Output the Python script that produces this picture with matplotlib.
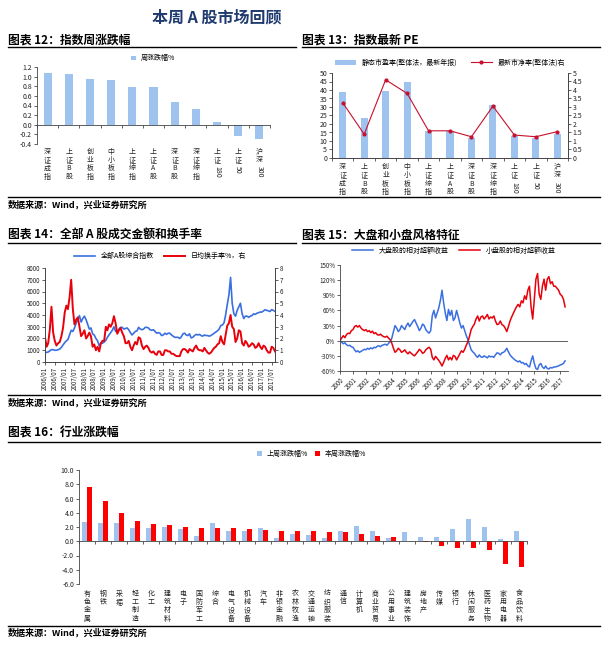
import re
import numpy as np
import pandas as pd
import matplotlib
matplotlib.use("Agg")
import matplotlib.pyplot as plt
from matplotlib.lines import Line2D
import matplotlib.transforms as mtransforms

plt.rcParams['font.family'] = ['Noto Sans CJK SC', 'DejaVu Sans']
plt.rcParams['axes.unicode_minus'] = False

# ---------------- data ----------------
# chart 12: weekly change of indices
idx_names = ["深证成指", "上证B股", "创业板指", "中小板指", "上证综指", "上证A股",
             "深证B股", "深证综指", "上证180", "上证50", "沪深300"]
week_chg = [1.08, 1.06, 0.95, 0.94, 0.79, 0.79, 0.47, 0.33, 0.05, -0.24, -0.30]

# chart 13: PE (left, bars) and PB (right, line)
pe_names = ["深证成指", "上证B股", "创业板指", "中小板指", "上证综指", "上证A股",
            "深证B股", "深证综指", "上证180", "上证50", "沪深300"]
pe_vals = [39.0, 23.5, 39.5, 45.0, 16.0, 16.0, 12.0, 31.0, 13.0, 11.5, 14.0]
pb_vals = [3.25, 1.40, 4.60, 3.80, 1.60, 1.60, 1.25, 3.05, 1.35, 1.25, 1.55]

# chart 14: monthly from 2006/01
a_index = [800, 820, 850, 950, 1050, 1050, 1000, 1000, 1050, 1100, 1250, 1450,
           1650, 1800, 1900, 2300, 2700, 2600, 2900, 3300, 3600, 3950, 3400, 3700,
           3900, 3600, 3200, 2800, 2900, 2400, 2300, 2000, 1800, 1400, 1600, 1600,
           1700, 1850, 2100, 2300, 2500, 2700, 3000, 2600, 2600, 2800, 2950, 2950,
           2800, 2850, 2900, 2750, 2500, 2300, 2450, 2600, 2650, 2950, 2800, 2750,
           2800, 2950, 2950, 2900, 2750, 2700, 2750, 2600, 2450, 2500, 2450, 2250,
           2300, 2450, 2350, 2450, 2450, 2300, 2200, 2100, 2100, 2100, 2000, 2150,
           2400, 2450, 2300, 2250, 2400, 2050, 2100, 2250, 2350, 2300, 2350, 2250,
           2200, 2300, 2250, 2250, 2200, 2250, 2350, 2450, 2550, 2650, 2800, 3100,
           3150, 3350, 4000, 4900, 5700, 7200, 5000, 4100, 3900, 4400, 4700, 5000,
           4100, 3700, 3900, 3900, 3800, 3900, 3950, 4100, 4050, 4150, 4200, 4250,
           4250, 4350, 4450, 4400, 4350, 4300, 4450, 4400, 4300]
turnover = [2.1, 1.3, 1.6, 2.8, 4.7, 2.5, 1.8, 1.4, 1.6, 1.7, 2.2, 2.9,
            4.2, 4.8, 4.5, 5.5, 7.0, 4.5, 3.2, 3.6, 3.8, 3.0, 2.2, 2.4,
            2.7, 2.0, 2.2, 2.5, 2.2, 1.3, 1.5, 1.0, 1.3, 0.9, 1.6, 1.8,
            1.8, 3.0, 2.7, 3.2, 3.0, 3.3, 3.9, 3.3, 2.4, 2.7, 2.9, 2.5,
            2.2, 1.6, 1.6, 1.8, 1.3, 1.0, 1.4, 1.7, 1.5, 2.1, 2.0, 1.4,
            1.1, 1.3, 1.4, 1.2, 0.9, 0.8, 0.9, 0.7, 0.6, 0.9, 0.9, 0.6,
            0.6, 1.0, 1.0, 0.9, 0.9, 0.7, 0.7, 0.6, 0.5, 0.5, 0.5, 0.9,
            1.1, 1.1, 1.0, 0.8, 1.1, 1.0, 0.9, 1.2, 1.4, 1.1, 1.0, 1.0,
            0.9, 1.2, 1.0, 0.8, 0.7, 0.8, 1.0, 1.2, 1.3, 1.5, 1.6, 2.2,
            1.7, 1.5, 2.3, 3.1, 3.3, 4.0, 3.0, 2.8, 1.7, 2.0, 2.7, 2.6,
            1.6, 1.4, 1.8, 1.6, 1.3, 1.4, 1.6, 1.5, 1.2, 1.3, 1.6, 1.3,
            1.1, 1.4, 1.3, 1.0, 0.8, 0.8, 1.3, 1.2, 0.9]

# chart 15: 8 points per year from 2000, in %
large_excess = [0, -3, -6, -4, -8, -10, -9, -12,
                -13, -18, -22, -20, -23, -21, -19, -17,
                -18, -15, -17, -14, -16, -13, -14, -11,
                -10, -12, -9, -8, -7, -9, -5, -2,
                5, 18, 30, 25, 18, 22, 30, 26,
                22, 30, 35, 28, 33, 38, 42, 35,
                28, 20, 25, 33, 30, 22, 18, 15,
                20, 50, 60, 45, 55, 65, 80, 100,
                75, 55, 40, 62, 50, 60, 40, 45,
                60, 48, 35, 25, 30, 20, 10, 2,
                -8, -18, -22, -25, -30, -33, -28, -32,
                -33, -30, -32, -34, -30, -32, -31, -33,
                -28, -24, -25, -28, -24, -23, -20, -15,
                -22, -28, -32, -35, -38, -40, -42, -40,
                -44, -43, -47, -45, -50, -52, -40, -30,
                -45, -55, -57, -48, -45, -52, -55, -50,
                -55, -56, -53, -54, -52, -52, -51, -50,
                -48, -47, -45, -40]
small_excess = [0, 5, 10, 6, 12, 15, 14, 20,
                22, 28, 30, 27, 30, 25, 22, 20,
                22, 18, 20, 16, 19, 14, 16, 12,
                11, 13, 10, 8, 7, 9, 5, 2,
                -5, -15, -23, -20, -15, -18, -23, -21,
                -18, -23, -26, -22, -25, -28, -30, -26,
                -22, -17, -20, -25, -23, -18, -15, -13,
                -17, -33, -38, -31, -35, -39, -44, -50,
                -43, -35, -29, -38, -33, -38, -29, -31,
                -38, -32, -26, -20, -23, -17, -9, -2,
                9, 22, 28, 33, 43, 49, 39, 47,
                49, 43, 47, 52, 43, 47, 45, 49,
                39, 32, 33, 39, 32, 30, 25, 18,
                28, 39, 47, 54, 61, 67, 72, 67,
                79, 75, 89, 82, 100, 108, 67, 43,
                82, 122, 133, 92, 82, 108, 122, 100,
                122, 127, 113, 117, 108, 108, 104, 100,
                92, 89, 82, 67]

# chart 16: industries
industries = ["有色金属", "钢铁", "采掘", "轻工制造", "化工", "建筑材料", "电子",
              "国防军工", "综合", "电气设备", "机械设备", "汽车", "非银金融", "农林牧渔",
              "交通运输", "纺织服装", "通信", "计算机", "商业贸易", "公用事业", "建筑装饰",
              "房地产", "传媒", "银行", "休闲服务", "医药生物", "家用电器", "食品饮料"]
last_week = [2.7, 2.6, 2.5, 1.9, 1.9, 2.0, 1.7, 0.8, 2.6, 1.5, 1.5, 1.8, 0.4, 1.0,
             0.85, 0.5, 1.5, 2.1, 1.5, 0.45, 1.3, 0.65, 0.65, 1.7, 3.1, 1.95, 0.3, 1.45]
this_week = [7.6, 5.6, 3.9, 2.9, 2.4, 2.3, 2.0, 1.9, 1.9, 1.8, 1.7, 1.6, 1.5, 1.4,
             1.45, 1.35, 1.35, 0.95, 0.7, 0.6, 0.05, -0.05, -0.65, -0.9, -1.0, -1.2, -3.2, -3.6]

LIGHT = '#9DC3EE'
RED = '#FF0000'
W, H = 608, 659

fig = plt.figure(figsize=(W / 100, H / 100), dpi=100)


def box(l, t, r, b):
    return [l / W, 1 - b / H, (r - l) / W, (b - t) / H]


def hline(y, x0, x1, lw=1.0):
    fig.add_artist(Line2D([x0 / W, x1 / W], [1 - y / H, 1 - y / H], color='black', lw=lw))


def ftext(x, y, s, **kw):
    fig.text(x / W, 1 - y / H, s, **kw)


def vlabels(ax, names, y=-0.03, fs=5):
    # chinese characters stacked, trailing digits rotated
    trans = mtransforms.blended_transform_factory(ax.transData, ax.transAxes)
    for i, n in enumerate(names):
        m = re.match(r'^(.*?)(\d+)$', n)
        cjk, digits = (m.group(1), m.group(2)) if m else (n, "")
        ax.text(i, y, "\n".join(cjk), ha='center', va='top', fontsize=fs,
                linespacing=1.05, transform=trans, color='#222222')
        if digits:
            off = -(len(cjk) * fs * 1.23) - 1
            ax.annotate(digits, (i, y), xycoords=trans, xytext=(0, off),
                        textcoords='offset points', rotation=270, ha='center',
                        va='top', fontsize=fs, color='#222222')


def style(ax, fs=5):
    ax.tick_params(labelsize=fs, length=2, width=0.5, pad=1.5, colors='#222222')
    for s in ax.spines.values():
        s.set_linewidth(0.6)
        s.set_color('#444444')


# ---- header ----
ftext(217, 17, "本周 A 股市场回顾", ha='center', va='center', fontsize=11.5,
      fontweight='bold', color='#1F3A6E')
ftext(8, 40, "图表 12：指数周涨跌幅", fontsize=8.5, fontweight='bold', va='center')
ftext(302, 40, "图表 13：指数最新 PE", fontsize=8.5, fontweight='bold', va='center')
hline(47, 8, 296)
hline(47, 302, 600)
hline(197, 8, 600)
ftext(8, 205, "数据来源：Wind，兴业证券研究所", fontsize=6.5, va='center', fontweight='bold')

ftext(8, 235, "图表 14：全部 A 股成交金额和换手率", fontsize=8.5, fontweight='bold', va='center')
ftext(302, 235, "图表 15：大盘和小盘风格特征", fontsize=8.5, fontweight='bold', va='center')
hline(243, 8, 296)
hline(243, 302, 600)
hline(395, 8, 600)
ftext(8, 403, "数据来源：Wind，兴业证券研究所", fontsize=6.5, va='center', fontweight='bold')

ftext(8, 433, "图表 16：行业涨跌幅", fontsize=8.5, fontweight='bold', va='center')
hline(442, 8, 600)
hline(626, 8, 600)
ftext(8, 633, "数据来源：Wind，兴业证券研究所", fontsize=6.5, va='center', fontweight='bold')

# ---- chart 12 ----
ax = fig.add_axes(box(37, 67, 270, 144))
x = np.arange(len(idx_names))
ax.bar(x, week_chg, width=0.38, color=LIGHT, label="周涨跌幅%")
ax.set_ylim(-0.4, 1.2)
ax.set_yticks(np.arange(-0.4, 1.21, 0.2))
ax.set_yticklabels([f"{v:.1f}" for v in np.arange(-0.4, 1.21, 0.2)])
for lbl, v in zip(ax.get_yticklabels(), np.arange(-0.4, 1.21, 0.2)):
    if v < -0.01:
        lbl.set_color(RED)
ax.set_xlim(-0.5, len(idx_names) - 0.5)
ax.spines['top'].set_visible(False)
ax.spines['right'].set_visible(False)
ax.spines['bottom'].set_position(('data', 0))
ax.set_xticks(np.arange(-0.5, len(idx_names), 1.0))
ax.set_xticklabels([])
style(ax)
vlabels(ax, idx_names, y=-0.05)
ax.legend(loc='upper center', bbox_to_anchor=(0.5, 1.2), frameon=False, fontsize=5,
          handlelength=0.6, handleheight=0.6, borderaxespad=0)

# ---- chart 13 ----
ax = fig.add_axes(box(332, 73, 568, 158))
x = np.arange(len(pe_names))
b = ax.bar(x, pe_vals, width=0.33, color=LIGHT, label="静态市盈率(整体法，最新年报)")
ax.set_ylim(0, 50)
ax.set_yticks(range(0, 51, 5))
ax.set_xlim(-0.5, len(pe_names) - 0.5)
ax.set_xticks(np.arange(-0.5, len(pe_names), 1.0))
ax.set_xticklabels([])
ax.spines['top'].set_visible(False)
style(ax)
ax2 = ax.twinx()
l, = ax2.plot(x, pb_vals, color='#C8102E', lw=0.8, marker='o', ms=2, label="最新市净率(整体法)右")
ax2.set_ylim(0, 5)
ax2.set_yticks(np.arange(0, 5.01, 0.5))
ax2.set_yticklabels([f"{v:g}" for v in np.arange(0, 5.01, 0.5)])
ax2.spines['top'].set_visible(False)
style(ax2)
vlabels(ax, pe_names, y=-0.06)
ax.legend([b, l], [b.get_label(), l.get_label()], loc='upper center', ncol=2,
          bbox_to_anchor=(0.5, 1.2), frameon=False, fontsize=5, handlelength=3,
          columnspacing=2, borderaxespad=0)

# ---- chart 14 ----
ax = fig.add_axes(box(45, 268, 275, 362))
months = pd.date_range('2006-01-01', periods=len(a_index), freq='MS')
l1, = ax.plot(months, a_index, color='#3A6FE0', lw=1.2, label="全部A股综合指数")
ax.set_ylim(0, 8000)
ax.set_yticks(range(0, 8001, 1000))
ticks = pd.date_range('2006-01-01', '2017-07-01', freq='6MS')
ax.set_xticks(ticks)
ax.set_xticklabels([t.strftime('%Y/%m') for t in ticks], rotation=90)
ax.set_xlim(months[0], months[-1])
ax.spines['top'].set_visible(False)
style(ax, fs=4.5)
ax2 = ax.twinx()
l2, = ax2.plot(months, turnover, color='#E8000B', lw=1.4, label="日均换手率%，右")
ax2.set_ylim(0, 8)
ax2.set_yticks(range(0, 9))
ax2.spines['top'].set_visible(False)
style(ax2, fs=4.5)
ax.legend([l1, l2], [l1.get_label(), l2.get_label()], loc='upper center', ncol=2,
          bbox_to_anchor=(0.5, 1.2), frameon=False, fontsize=5, handlelength=3,
          columnspacing=1.5, borderaxespad=0)

# ---- chart 15 ----
ax = fig.add_axes(box(340, 265, 568, 371))
yrs = 2000 + np.arange(len(large_excess)) / 8
l1, = ax.plot(yrs, large_excess, color='#3A6FE0', lw=1.1, label="大盘股的相对超额收益")
l2, = ax.plot(yrs, small_excess, color='#E8000B', lw=1.1, label="小盘股的相对超额收益")
ax.set_ylim(-60, 150)
ax.set_yticks(range(-60, 151, 30))
ax.set_yticklabels([f"{v}%" for v in range(-60, 151, 30)])
ax.set_xlim(2000, 2017.6)
ax.set_xticks(range(2000, 2018))
ax.set_xticklabels([str(v) for v in range(2000, 2018)], rotation=45, ha='right',
                   rotation_mode='anchor')
ax.spines['top'].set_visible(False)
ax.spines['right'].set_visible(False)
ax.axhline(0, color='#444444', lw=0.6)
style(ax, fs=4.5)
ax.legend([l1, l2], [l1.get_label(), l2.get_label()], loc='upper center', ncol=2,
          bbox_to_anchor=(0.5, 1.2), frameon=False, fontsize=5, handlelength=3,
          columnspacing=1.5, borderaxespad=0)

# ---- chart 16 ----
ax = fig.add_axes(box(79, 470, 527, 584))
x = np.arange(len(industries))
bw = 0.34
b1 = ax.bar(x - bw / 2, last_week, width=bw, color=LIGHT, label="上周涨跌幅%")
b2 = ax.bar(x + bw / 2, this_week, width=bw, color=RED, label="本周涨跌幅%")
ax.set_ylim(-6, 10)
yt = np.arange(-6, 10.1, 2)
ax.set_yticks(yt)
ax.set_yticklabels([f"{v:.1f}" for v in yt])
for lbl, v in zip(ax.get_yticklabels(), yt):
    if v < 0:
        lbl.set_color(RED)
ax.set_xlim(-0.5, len(industries) - 0.5)
ax.spines['top'].set_visible(False)
ax.spines['right'].set_visible(False)
ax.spines['bottom'].set_position(('data', 0))
ax.set_xticks(np.arange(-0.5, len(industries), 1.0))
ax.set_xticklabels([])
style(ax)
vlabels(ax, industries, y=-0.05)
ax.legend(loc='upper center', ncol=2, bbox_to_anchor=(0.52, 1.2), frameon=False,
          fontsize=5, handlelength=0.6, handleheight=0.6, columnspacing=1,
          borderaxespad=0)

fig.savefig("out.png", dpi=100)
